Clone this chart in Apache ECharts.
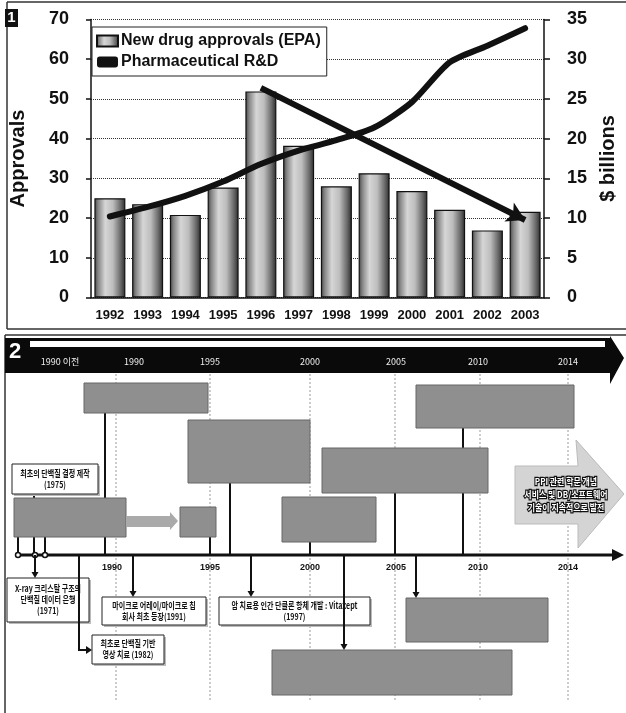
<!DOCTYPE html>
<html><head><meta charset="utf-8">
<script src="https://cdn.jsdelivr.net/npm/echarts@6/dist/echarts.min.js"></script>
<style>html,body{margin:0;padding:0;background:#fff}#c{width:626px;height:713px}</style>
</head><body><div id="c"></div>
<script>
// ---------- DATA (panel 1) ----------
const years = ['1992','1993','1994','1995','1996','1997','1998','1999','2000','2001','2002','2003'];
const approvals = [25.0, 23.5, 20.8, 27.7, 51.9, 38.2, 28.0, 31.3, 26.8, 22.1, 16.9, 21.6];
const rdBillions = [10.2, 11.4, 12.8, 14.6, 16.8, 18.5, 19.8, 21.4, 24.6, 29.6, 31.7, 33.9];
const trendFrom = ['1996', 52.8];
const trendTo = ['2003', 19.5];

// ---------- DATA (panel 2, timeline texts) ----------
const topYearLabels = ['1990 이전','1990','1995','2000','2005','2010','2014'];
const bottomYearLabels = ['1990','1995','2000','2005','2010','2014'];
const evt1975 = ['최초의 단백질 결정 제작','(1975)'];
const evt1971 = ['X-ray 크리스탈 구조의','단백질 데이터 은행','(1971)'];
const evt1982 = ['최초로 단백질 기반','영상 치료 (1982)'];
const evt1991 = ['마이크로 어레이/마이크로 칩','회사 최초 등장(1991)'];
const evt1997 = ['암 치료용 인간 단클론 항체 개발 : Vitaxept','(1997)'];
const futureText = ['PPI 관련 학문 개념','서비스 및 DB/소프트웨어','기술이 지속적으로 발전'];

// ---------- layout (panel 2 diagram) ----------
const L = {
  topLabelX: [60,134,210,310,396,478,568],
  botLabelX: [112,210,310,396,478,568],
  dashX: [116,210,310,395,480,568],
  greyBoxes: [[84,383,124,30],[188,420,122,63],[322,448,166,45],[416,385,158,43],
              [14,498,112,39],[180,507,36,30],[282,497,94,45],[406,598,142,44],[272,650,240,45]],
  upLines: [[105,413],[230,483],[395,493],[463,428],[18,537],[45,537],[210,537],[310,542],[34,492]],
  downArrows: [[35,578],[133,597],[251,597],[344,650],[416,598]]
};

const chart = echarts.init(document.getElementById('c'), null, {renderer:'canvas'});
const FONT = 'Liberation Sans, Arial, sans-serif';
const KR = 'Noto Sans CJK KR, sans-serif';
const barFill = new echarts.graphic.LinearGradient(0,0,1,0,[
  {offset:0,color:'#444'},{offset:0.12,color:'#858585'},{offset:0.35,color:'#d6d6d6'},
  {offset:0.6,color:'#bdbdbd'},{offset:0.85,color:'#686868'},{offset:1,color:'#2a2a2a'}]);

const AXIS_Y = 555;
const g = [];
// panel frames
g.push({type:'line',shape:{x1:7,y1:2,x2:626,y2:2},style:{stroke:'#333',lineWidth:1.5}});
g.push({type:'line',shape:{x1:7,y1:2,x2:7,y2:329},style:{stroke:'#333',lineWidth:1.5}});
g.push({type:'line',shape:{x1:7,y1:329,x2:626,y2:329},style:{stroke:'#333',lineWidth:1.5}});
g.push({type:'line',shape:{x1:5,y1:335,x2:626,y2:335},style:{stroke:'#333',lineWidth:1.5}});
g.push({type:'line',shape:{x1:5,y1:335,x2:5,y2:713},style:{stroke:'#333',lineWidth:1.5}});
// "1" badge
g.push({type:'rect',shape:{x:5,y:9,width:13,height:18},style:{fill:'#111'}});
g.push({type:'text',x:11.5,y:18,style:{text:'1',fill:'#fff',font:'bold 15px '+FONT,align:'center',verticalAlign:'middle'}});
// header arrow band
g.push({type:'polygon',shape:{points:[[5,338],[610,338],[610,336],[624,358],[610,384],[610,373],[5,373]]},style:{fill:'#0a0a0a'}});
g.push({type:'rect',shape:{x:30,y:341,width:575,height:6},style:{fill:'#fff'}});
g.push({type:'text',x:15,y:352,style:{text:'2',fill:'#fff',font:'bold 22px '+FONT,align:'center',verticalAlign:'middle'}});
topYearLabels.forEach((t,i)=>g.push({type:'text',x:L.topLabelX[i],y:362,style:{text:t,fill:'#eee',font:'9px '+KR,align:'center',verticalAlign:'middle'}}));
// dashed guides
L.dashX.forEach(x=>g.push({type:'line',shape:{x1:x,y1:374,x2:x,y2:700},style:{stroke:'#999',lineWidth:1,lineDash:[2,2]}}));
// up connectors
L.upLines.forEach(([x,y])=>g.push({type:'line',shape:{x1:x,y1:y,x2:x,y2:AXIS_Y},style:{stroke:'#111',lineWidth:2}}));
// future arrow
g.push({type:'polygon',shape:{points:[[515,466],[578,466],[576,440],[624,494],[578,548],[578,524],[515,524]]},style:{fill:'#d4d4d4',stroke:'#bbb',lineWidth:1}});
futureText.forEach((t,i)=>g.push({type:'text',x:566,y:482+i*13,scaleX:0.88,originX:0,originY:0,style:{text:t,fill:'#fff',stroke:'#111',lineWidth:2.5,font:'bold 9px '+KR,align:'center',verticalAlign:'middle'}}));
// grey boxes
L.greyBoxes.forEach(([x,y,w,h])=>g.push({type:'rect',shape:{x:x,y:y,width:w,height:h},style:{fill:'#8f8f8f',stroke:'#666',lineWidth:1}}));
// grey arrow G5 -> G6
g.push({type:'polygon',shape:{points:[[126,516],[170,516],[170,512],[178,521],[170,530],[170,527],[126,527]]},style:{fill:'#aaa'}});
// white boxes
function wbox(x,y,w,h,lines){
  g.push({type:'rect',shape:{x:x+2,y:y+2,width:w,height:h},style:{fill:'#bbb'}});
  g.push({type:'rect',shape:{x:x,y:y,width:w,height:h},style:{fill:'#fff',stroke:'#222',lineWidth:1}});
  const lh=11, y0=y+h/2-(lines.length-1)*lh/2;
  lines.forEach((t,i)=>{
    const cx=x+w/2, cy=y0+i*lh;
    g.push({type:'text',x:cx,y:cy,scaleX:0.78,originX:0,originY:0,
      style:{text:t,fill:'#111',font:'bold 9px '+KR,align:'center',verticalAlign:'middle'}});
  });
}
wbox(12,464,86,30,evt1975);
wbox(7,578,82,44,evt1971);
wbox(92,635,72,29,evt1982);
wbox(102,597,104,28,evt1991);
wbox(219,597,151,28,evt1997);
// bottom axis
g.push({type:'line',shape:{x1:18,y1:AXIS_Y,x2:614,y2:AXIS_Y},style:{stroke:'#111',lineWidth:3}});
g.push({type:'polygon',shape:{points:[[612,549],[624,555],[612,561]]},style:{fill:'#111'}});
[18,35,45].forEach(x=>g.push({type:'circle',shape:{cx:x,cy:AXIS_Y,r:2.5},style:{fill:'#fff',stroke:'#111',lineWidth:1.5}}));
bottomYearLabels.forEach((t,i)=>g.push({type:'text',x:L.botLabelX[i],y:568,style:{text:t,fill:'#111',font:'bold 9px '+FONT,align:'center',verticalAlign:'middle'}}));
// down connectors with arrows
L.downArrows.forEach(([x,y])=>{
  g.push({type:'line',shape:{x1:x,y1:AXIS_Y,x2:x,y2:y-4},style:{stroke:'#111',lineWidth:2}});
  g.push({type:'polygon',shape:{points:[[x-3.5,y-6],[x+3.5,y-6],[x,y]]},style:{fill:'#111'}});
});
g.push({type:'polyline',shape:{points:[[79,AXIS_Y],[79,650],[87,650]]},style:{stroke:'#111',lineWidth:2,fill:null}});
g.push({type:'polygon',shape:{points:[[86,646],[86,654],[92,650]]},style:{fill:'#111'}});

const option = {
  animation:false,
  backgroundColor:'#fff',
  textStyle:{fontFamily:FONT},
  grid:{left:82,right:74,top:19.5,bottom:415.5,containLabel:false},
  legend:{
    orient:'vertical',left:92,top:27,padding:[6,6,6,4],itemGap:5,
    itemWidth:21,itemHeight:11,backgroundColor:'#fff',borderColor:'#222',borderWidth:1,
    textStyle:{fontFamily:FONT,fontSize:16,color:'#111',fontWeight:'bold',padding:[0,0,0,-2]},
    data:[{name:'New drug approvals (EPA)',icon:'rect'},{name:'Pharmaceutical R&D',icon:'roundRect'}]
  },
  xAxis:{type:'category',data:years,boundaryGap:true,
    axisLine:{lineStyle:{color:'#111',width:1.5}},axisTick:{show:false},
    axisLabel:{fontFamily:FONT,fontSize:13,fontWeight:'bold',color:'#111',margin:11,interval:0}},
  yAxis:[
    {type:'value',min:0,max:70,interval:10,name:'Approvals',nameLocation:'middle',nameGap:63,nameRotate:90,
     nameTextStyle:{fontFamily:FONT,fontSize:20,fontWeight:'bold',color:'#111'},
     axisLine:{show:true,lineStyle:{color:'#111',width:1.5}},axisTick:{show:true,length:5,lineStyle:{color:'#111',width:1.5}},
     axisLabel:{fontFamily:FONT,fontSize:18,fontWeight:'bold',color:'#111',margin:22},
     splitLine:{show:true,lineStyle:{color:'#333',type:'dotted',width:1}}},
    {type:'value',min:0,max:35,interval:5,name:'$ billions',nameLocation:'middle',nameGap:54,nameRotate:90,
     nameTextStyle:{fontFamily:FONT,fontSize:20,fontWeight:'bold',color:'#111'},
     axisLine:{show:true,lineStyle:{color:'#111',width:1.5}},axisTick:{show:true,length:6,lineStyle:{color:'#111',width:1.5}},
     axisLabel:{fontFamily:FONT,fontSize:18,fontWeight:'bold',color:'#111',margin:23},
     splitLine:{show:false}}
  ],
  series:[
    {name:'New drug approvals (EPA)',type:'bar',data:approvals,barWidth:31,yAxisIndex:0,
     itemStyle:{color:barFill,borderColor:'#111',borderWidth:1.2},
     markLine:{silent:true,symbol:['none','arrow'],symbolSize:[16,18],
       lineStyle:{color:'#111',width:6,type:'solid'},label:{show:false},
       data:[[{coord:trendFrom},{coord:trendTo}]]},
     z:2},
    {name:'Pharmaceutical R&D',type:'line',data:rdBillions,yAxisIndex:1,smooth:0.25,
     showSymbol:false,symbol:'none',lineStyle:{color:'#111',width:6,cap:'round',join:'round'},
     itemStyle:{color:'#111'},z:3}
  ],
  graphic:g
};
chart.setOption(option);
</script></body></html>
